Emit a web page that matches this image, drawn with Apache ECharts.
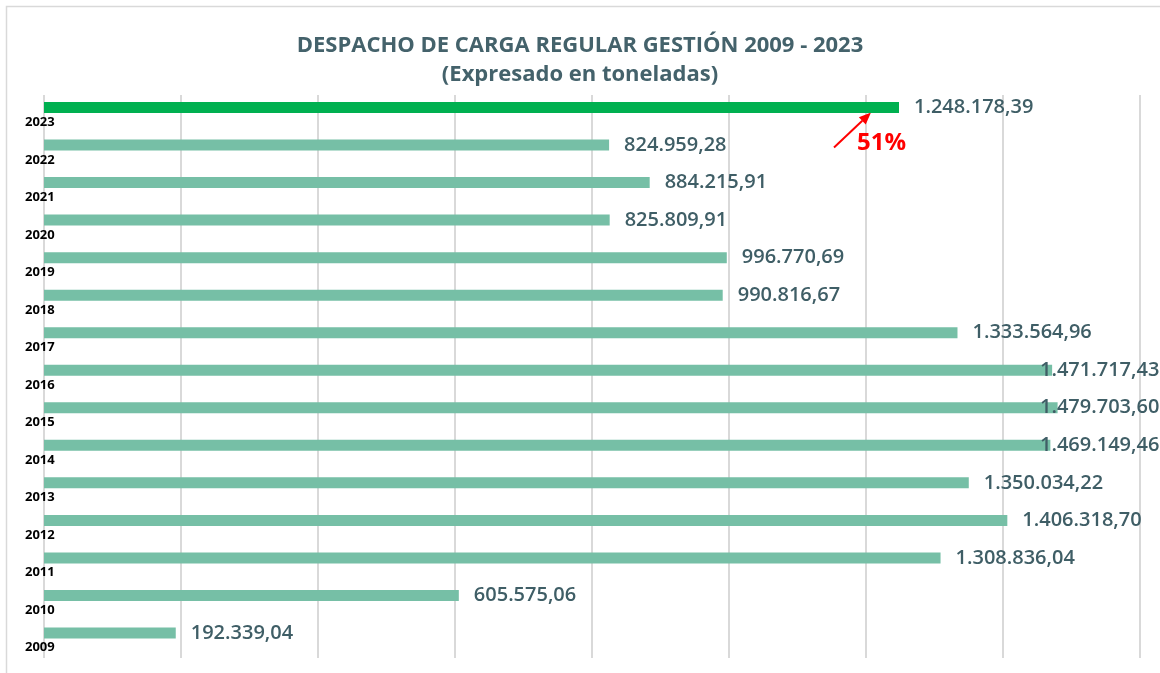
<!DOCTYPE html>
<html>
<head>
<meta charset="utf-8">
<script src="https://cdn.jsdelivr.net/npm/echarts@6/dist/echarts.min.js"></script>
<style>html,body{margin:0;padding:0;background:#fff}#c{width:1160px;height:673px}</style>
</head>
<body>
<div id="c"></div>
<script>
const years = ['2009','2010','2011','2012','2013','2014','2015','2016','2017','2018','2019','2020','2021','2022','2023'];
const tonnes = [192339.04, 605575.06, 1308836.04, 1406318.70, 1350034.22, 1469149.46, 1479703.60, 1471717.43, 1333564.96, 990816.67, 996770.69, 825809.91, 884215.91, 824959.28, 1248178.39];
const highlightYear = '2023';
const growthLabel = '51%';
const axisMax = 1600000;
const axisStep = 200000;

function fmt(v){
  const parts = v.toFixed(2).split('.');
  return parts[0].replace(/\B(?=(\d{3})+(?!\d))/g, '.') + ',' + parts[1];
}

const W = 1160, gridL = 44, gridR = 20;
const chart = echarts.init(document.getElementById('c'));
const font = '"Open Sans", "Noto Sans", sans-serif';
const labelColor = '#3F5E66';

const barData = tonnes.map((v, i) => {
  const barEnd = gridL + v / axisMax * (W - gridL - gridR);
  const dist = Math.min(15, W - barEnd - 120);
  return {
    value: v,
    itemStyle: { color: years[i] === highlightYear ? '#00B050' : '#76BFA6' },
    label: { distance: dist }
  };
});

chart.setOption({
  animation: false,
  title: {
    text: 'DESPACHO DE CARGA REGULAR GESTIÓN 2009 - 2023\n(Expresado en toneladas)',
    left: 'center',
    top: 26,
    textStyle: { fontFamily: font, fontSize: 22, fontWeight: 'bold', color: '#44626B', lineHeight: 29 }
  },
  grid: { left: gridL, right: gridR, top: 95, bottom: 15 },
  xAxis: {
    type: 'value', min: 0, max: axisMax, interval: axisStep,
    axisLabel: { show: false }, axisLine: { show: false }, axisTick: { show: false },
    splitLine: { show: true, lineStyle: { color: '#D9D9D9', width: 2 } }
  },
  yAxis: {
    type: 'category', data: years, z: 5,
    axisLine: { show: false }, axisTick: { show: false },
    axisLabel: {
      align: 'left', verticalAlign: 'top', margin: 19, padding: [2, 0, 0, 0],
      fontFamily: font, fontSize: 13, fontWeight: 'bold', color: '#000'
    }
  },
  series: [
    {
      type: 'bar', data: barData, barWidth: 11, barGap: '0%',
      label: {
        show: true, position: 'right', formatter: p => fmt(p.value),
        fontFamily: font, fontSize: 20, fontWeight: 600, color: labelColor,
        padding: [12, 0, 0, 0]
      }
    },
    {
      type: 'bar', data: tonnes.map(() => 0), barWidth: 12.5, barGap: '0%',
      itemStyle: { color: 'rgba(0,0,0,0)' }, silent: true
    }
  ]
});

// annotation pointing to highlighted bar
const hi = years.indexOf(highlightYear);
const endPt = chart.convertToPixel({ seriesIndex: 0 }, [tonnes[hi], hi]);
const barCenter = endPt[1] - 6.25;
const tipX = endPt[0] - 28, tipY = barCenter + 5;
const tailX = tipX - 37, tailY = tipY + 35;
const ang = Math.atan2(tipY - tailY, tipX - tailX);
const hl = 12, hw = 5;
const bx = tipX - hl * Math.cos(ang), by = tipY - hl * Math.sin(ang);
chart.setOption({
  graphic: [
    { type: 'rect', shape: { x: 6.5, y: 6.5, width: 1200, height: 1000 }, style: { fill: 'none', stroke: '#D9D9D9', lineWidth: 1.5 }, silent: true },
    { type: 'line', shape: { x1: tailX, y1: tailY, x2: bx, y2: by }, style: { stroke: '#FF0000', lineWidth: 2 } },
    { type: 'polygon', shape: { points: [[tipX, tipY], [bx + hw * Math.sin(ang), by - hw * Math.cos(ang)], [bx - hw * Math.sin(ang), by + hw * Math.cos(ang)]] }, style: { fill: '#FF0000' } },
    { type: 'text', x: tipX - 14, y: barCenter + 36, style: { text: growthLabel, fill: '#FF0000', font: 'bold 24px ' + font, textVerticalAlign: 'middle' } }
  ]
});
</script>
</body>
</html>
